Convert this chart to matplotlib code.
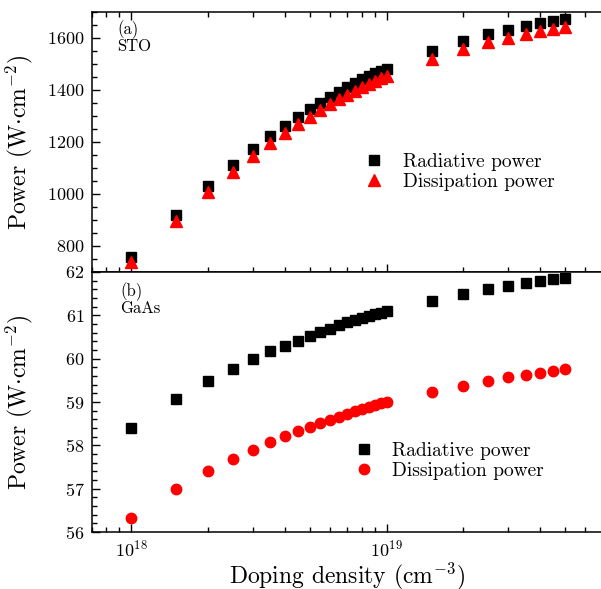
import matplotlib
matplotlib.use('Agg')
import matplotlib.pyplot as plt
from matplotlib.ticker import MultipleLocator, LogLocator, NullFormatter

plt.rcParams['font.family'] = ['cmr10', 'DejaVu Serif']
plt.rcParams['mathtext.fontset'] = 'cm'
plt.rcParams['axes.formatter.use_mathtext'] = True
plt.rcParams['axes.unicode_minus'] = False

# doping density (cm^-3)
doping = [1.0e18, 1.5e18, 2.0e18, 2.5e18, 3.0e18, 3.5e18, 4.0e18, 4.5e18,
          5.0e18, 5.5e18, 6.0e18, 6.5e18, 7.0e18, 7.5e18, 8.0e18, 8.5e18,
          9.0e18, 9.5e18, 1.0e19, 1.5e19, 2.0e19, 2.5e19, 3.0e19, 3.5e19,
          4.0e19, 4.5e19, 5.0e19]

# (a) STO
sto_rad = [758, 921, 1029, 1110, 1173, 1224, 1262, 1295,
           1326, 1351, 1374, 1392, 1410, 1428, 1441, 1453,
           1466, 1474, 1481, 1549, 1587, 1615, 1632, 1646,
           1657, 1664, 1673]
sto_dis = [740, 897, 1006, 1085, 1147, 1195, 1236, 1268,
           1298, 1322, 1346, 1364, 1381, 1398, 1412, 1424,
           1436, 1445, 1452, 1519, 1557, 1584, 1601, 1614,
           1626, 1634, 1642]

# (b) GaAs
gaas_rad = [58.40, 59.07, 59.48, 59.77, 59.99, 60.17, 60.30, 60.41,
            60.52, 60.62, 60.69, 60.77, 60.84, 60.89, 60.95, 60.99,
            61.03, 61.06, 61.09, 61.33, 61.50, 61.60, 61.68, 61.74,
            61.79, 61.83, 61.87]
gaas_dis = [56.33, 56.99, 57.41, 57.68, 57.90, 58.08, 58.21, 58.32,
            58.43, 58.52, 58.59, 58.66, 58.73, 58.79, 58.84, 58.88,
            58.93, 58.97, 58.99, 59.23, 59.38, 59.49, 59.57, 59.63,
            59.68, 59.72, 59.76]

W, H = 601, 589
fig = plt.figure(figsize=(W / 100, H / 100), dpi=100)

left = 91.5 / W
width = (602.5 - 91.5) / W
ax1 = fig.add_axes([left, (H - 272) / H, width, 260 / H])
ax2 = fig.add_axes([left, (H - 532) / H, width, 260 / H], sharex=ax1)

ms_sq = 7.2
ax1.plot(doping, sto_rad, 's', color='black', ms=ms_sq, label='Radiative power', zorder=3)
ax1.plot(doping, sto_dis, '^', color='red', ms=8, label='Dissipation power', zorder=4)
ax2.plot(doping, gaas_rad, 's', color='black', ms=ms_sq, label='Radiative power', zorder=3)
ax2.plot(doping, gaas_dis, 'o', color='red', ms=7.5, label='Dissipation power', zorder=4)

ax1.set_xscale('log')
ax1.set_xlim(7e17, 7e19)
ax1.set_ylim(700, 1700)
ax2.set_ylim(56, 62)

ax1.yaxis.set_major_locator(MultipleLocator(200))
ax1.yaxis.set_minor_locator(MultipleLocator(50))
ax2.yaxis.set_major_locator(MultipleLocator(1))
ax2.yaxis.set_minor_locator(MultipleLocator(0.2))

for ax in (ax1, ax2):
  ax.xaxis.set_major_locator(LogLocator(base=10, numticks=10))
  ax.xaxis.set_minor_locator(LogLocator(base=10, subs=range(2, 10), numticks=10))
  ax.xaxis.set_minor_formatter(NullFormatter())
  ax.tick_params(which='major', direction='in', length=6, width=1, labelsize=13, pad=5)
  ax.tick_params(which='minor', direction='in', length=3.5, width=1)
  for s in ax.spines.values():
    s.set_linewidth(1.1)
  ax.set_ylabel(r'Power (W$\cdot$cm$^{-2}$)', fontsize=17)
  ax.yaxis.set_label_coords(-0.11, 0.5)

ax1.tick_params(axis='x', which='both', top=True, labelbottom=False)
ax1.yaxis.get_major_ticks()[0].label1.set_visible(False)
ax2.set_xlabel(r'Doping density (cm$^{-3}$)', fontsize=17)
ax2.xaxis.set_label_coords(0.501, -0.11)

ax1.text(0.05, 0.931, '(a)', transform=ax1.transAxes, fontsize=12, va='center')
ax1.text(0.05, 0.869, 'STO', transform=ax1.transAxes, fontsize=12, va='center')
ax2.text(0.056, 0.923, '(b)', transform=ax2.transAxes, fontsize=12, va='center')
ax2.text(0.056, 0.862, 'GaAs', transform=ax2.transAxes, fontsize=12, va='center')

ax1.legend(loc='upper left', bbox_to_anchor=(0.533, 0.458), frameon=False, fontsize=14,
           handlelength=1.0, handletextpad=1.0, labelspacing=0.1, borderpad=0, borderaxespad=0)
ax2.legend(loc='upper left', bbox_to_anchor=(0.514, 0.346), frameon=False, fontsize=14,
           handlelength=1.0, handletextpad=0.94, labelspacing=0.1, borderpad=0, borderaxespad=0)

fig.savefig('out.png', dpi=100)
